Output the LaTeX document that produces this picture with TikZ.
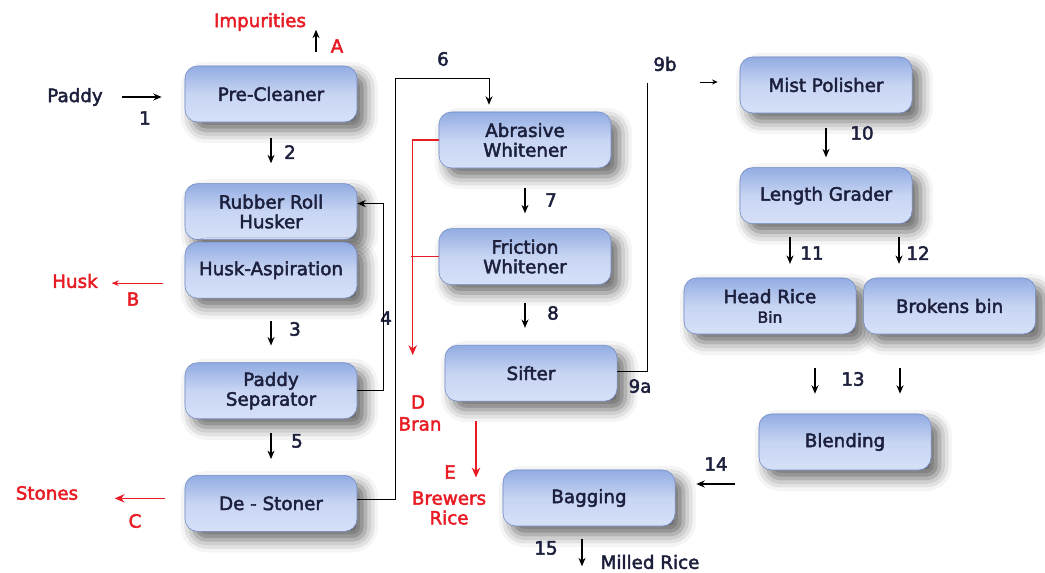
\documentclass[tikz,border=0pt]{standalone}
\usepackage{fontspec}
\setmainfont{DejaVu Sans}[FakeBold=2.5]
\usetikzlibrary{positioning,arrows.meta,shadows.blur}

\definecolor{boxtop}{RGB}{146,172,226}
\definecolor{boxmid}{RGB}{200,213,243}
\definecolor{boxbot}{RGB}{214,224,248}
\definecolor{boxline}{RGB}{112,138,198}
\definecolor{boxtext}{RGB}{28,32,60}
\definecolor{outred}{RGB}{232,28,36}

\tikzset{
  unit/.style={draw=boxline, rounded corners=9pt, top color=boxtop, bottom color=boxbot, middle color=boxmid,
    minimum width=4.3cm, minimum height=1.4cm, align=center, text=boxtext,
    blur shadow={shadow xshift=6pt, shadow yshift=-6pt, shadow blur radius=9pt, shadow opacity=60}},
  lbl/.style={inner sep=1pt, text=boxtext},
  outlbl/.style={text=outred, inner sep=1pt},
  arr/.style={-{Stealth[length=6pt,width=5pt]}, line width=0.9pt},
  feed/.style={line width=0.7pt},
  outarr/.style={-{Stealth[length=7pt,width=6pt]}, draw=outred, line width=1.2pt},
}

\begin{document}
\begin{tikzpicture}[x=0.025cm, y=-0.025cm, font=\fontsize{13}{14}\selectfont]
\useasboundingbox (0,0) rectangle (1045,572);
% first column
\node[unit] (pre) at (271,94) {Pre-Cleaner};
\node[unit, below=1.525cm of pre] (husker) {Rubber Roll\\Husker};
\node[unit, below=0.05cm of husker] (asp) {Husk-Aspiration};
\node[unit, below=1.6cm of asp] (sep) {Paddy\\Separator};
\node[unit, below=1.4cm of sep] (stoner) {De - Stoner};
% second column
\node[unit] (abr) at (525,140) {Abrasive\\Whitener};
\node[unit, below=1.5cm of abr] (fric) {Friction\\Whitener};
\node[unit, below=1.5cm of fric, xshift=0.15cm] (sifter) {Sifter};
\node[unit] (bag) at (589,498) {Bagging};
% third column
\node[unit] (mist) at (826,85) {Mist Polisher};
\node[unit, below=1.35cm of mist] (grader) {Length Grader};
\node[unit] (head) at (770,306) {Head Rice\\{\fontsize{11}{12}\selectfont Bin}};
\node[unit, right=0.175cm of head] (brok) {Brokens bin};
\node[unit] (blend) at (845,442) {Blending};

% labels
\node[lbl] (paddy) at (75,97) {Paddy};
\node[lbl] (n1) at (145,118) {1};
\node[outlbl] (impur) at (260,22) {Impurities};
\node[outlbl] (outA) at (337,46) {A};
\node[lbl] (n2) at (290,152) {2};
\node[outlbl] (husk) at (75,281) {Husk};
\node[outlbl] (outB) at (133,299) {B};
\node[lbl] (n3) at (295,329) {3};
\node[lbl] (n4) at (386,318) {4};
\node[lbl] (n5) at (297,441) {5};
\node[outlbl] (stones) at (47,493) {Stones};
\node[outlbl] (outC) at (135,521) {C};
\node[lbl] (n6) at (443,59) {6};
\node[outlbl] (outD) at (418,402) {D};
\node[outlbl] (bran) at (420,424) {Bran};
\node[lbl] (n7) at (551,200) {7};
\node[lbl] (n8) at (553,313) {8};
\node[lbl] (n9a) at (640,386) {9a};
\node[lbl] (n9b) at (665,64) {9b};
\node[outlbl] (outE) at (450,472) {E};
\node[outlbl, align=center] (brewers) at (449,508) {Brewers\\Rice};
\node[lbl] (n10) at (862,133) {10};
\node[lbl] (n11) at (812,253) {11};
\node[lbl] (n12) at (918,253) {12};
\node[lbl] (n13) at (853,379) {13};
\node[lbl] (n14) at (716,464) {14};
\node[lbl] (n15) at (546,548) {15};
\node[lbl] (milled) at (650,562) {Milled Rice};

% first column flows
\draw[arr, shorten <=0.45cm, shorten >=0.575cm] (paddy.east) -- (paddy.east -| pre.west);
\draw[arr] ([xshift=1.125cm, yshift=0.35cm]pre.north) -- ++(0,0.55cm);
\draw[arr, shorten <=0.4cm, shorten >=0.5cm] (pre) -- (husker);
\draw[outarr, line width=0.6pt, -{Stealth[length=5pt,width=4pt]}] ([xshift=-0.55cm, yshift=-0.325cm]asp.west) -- ++(-1.275cm,0);
\draw[arr, shorten <=0.575cm, shorten >=0.425cm] (asp) -- (sep);
\draw[arr, feed] (sep.east) -- ++(0.65cm,0) |- ([yshift=0.2cm]husker.east);
\draw[arr, shorten <=0.35cm, shorten >=0.4cm] (sep) -- (stoner);
\draw[outarr] ([xshift=-0.5cm, yshift=0.125cm]stoner.west) -- ++(-1.25cm,0);
\draw[arr, feed] ([yshift=0.1cm]stoner.east) -- ++(0.95cm,0) |- ([xshift=-0.9cm, yshift=0.825cm]abr.north) -- ([xshift=-0.9cm, yshift=0.175cm]abr.north);

% second column flows
\draw[outarr, line width=1pt] (abr.west) -- ++(-0.65cm,0) -- ++(0,-5.375cm);
\draw[outred, line width=1pt] (fric.west) -- ++(-0.7cm,0);
\draw[arr, shorten <=0.5cm, shorten >=0.375cm] (abr) -- (fric);
\draw[arr, shorten <=0.45cm, shorten >=0.425cm] (fric.south) -- (fric.south |- sifter.north);
\draw[feed] ([yshift=0.05cm]sifter.east) -- ++(0.75cm,0) -- ++(0,7.2cm);
\draw[line width=0.6pt, -{Stealth[length=4pt,width=3.5pt]}] ([xshift=-1cm, yshift=0.075cm]mist.west) -- ++(0.45cm,0);
\draw[outarr] ([xshift=-1.375cm, yshift=-0.5cm]sifter.south) -- ++(0,-1.4cm);
\draw[arr] ([xshift=1.5cm, yshift=0.35cm]bag.east) -- ++(-0.975cm,0);
\draw[arr] ([xshift=-0.175cm, yshift=-0.325cm]bag.south) -- ++(0,-0.675cm);

% third column flows
\draw[arr, shorten <=0.375cm, shorten >=0.25cm] (mist) -- (grader);
\draw[arr] ([xshift=-0.9cm, yshift=-0.325cm]grader.south) -- ++(0,-0.675cm);
\draw[arr] ([xshift=1.825cm, yshift=-0.325cm]grader.south) -- ++(0,-0.675cm);
\draw[arr] ([xshift=-0.75cm, yshift=1.15cm]blend.north) -- ++(0,-0.65cm);
\draw[arr] ([xshift=1.375cm, yshift=1.15cm]blend.north) -- ++(0,-0.65cm);
\end{tikzpicture}
\end{document}
